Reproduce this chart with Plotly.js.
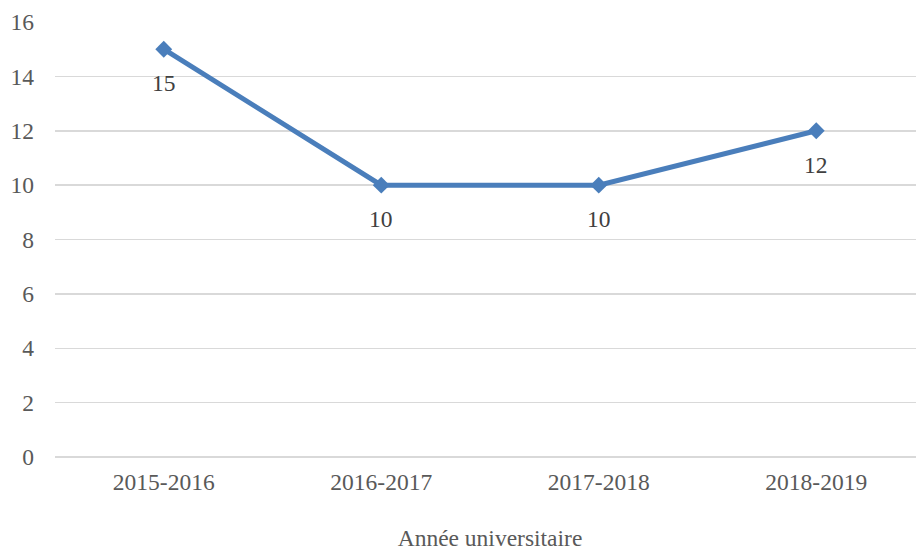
<!DOCTYPE html>
<html><head><meta charset="utf-8">
<script src="https://cdn.plot.ly/plotly-3.0.1.min.js"></script>
<style>html,body{margin:0;padding:0;overflow:hidden;background:#fff}#chart{width:925px;height:551px}</style>
</head><body><div id="chart"></div>
<script>
const categories = ["2015-2016", "2016-2017", "2017-2018", "2018-2019"];
const values = [15, 10, 10, 12];
const yTicks = [0, 2, 4, 6, 8, 10, 12, 14, 16];
const xTitle = "Année universitaire";

const font = "'Liberation Serif', 'Times New Roman', serif";
const fs = 23.5;
const trace = {
  x: [0, 1, 2, 3],
  y: values,
  type: 'scatter',
  mode: 'lines+markers',
  line: {color: '#4a7ebb', width: 5},
  marker: {symbol: 'diamond', size: 13, color: '#4a7ebb'},
  cliponaxis: false,
  hoverinfo: 'none'
};
const annotations = values.map((v, i) => ({
  x: i, y: v, xref: 'x', yref: 'y',
  text: String(v), showarrow: false,
  yshift: -34,
  font: {family: font, size: fs, color: '#404040'}
}));
const layout = {
  width: 925, height: 551,
  margin: {l: 55, r: 0, t: 22, b: 94},
  paper_bgcolor: '#fff', plot_bgcolor: '#fff',
  showlegend: false,
  font: {family: font, size: fs, color: '#595959'},
  annotations: annotations,
  xaxis: {
    range: [-0.5, 3.5],
    tickvals: [0, 1, 2, 3],
    ticktext: categories,
    showgrid: false, zeroline: false,
    showline: false, ticks: '',
    ticklabelstandoff: 8,
    tickfont: {family: font, size: fs, color: '#595959'},
    title: {text: xTitle, font: {family: font, size: fs, color: '#595959'}, standoff: 36}
  },
  yaxis: {
    range: [0, 16],
    tickvals: yTicks,
    showgrid: true, gridcolor: '#d9d9d9', gridwidth: 1.5,
    zeroline: true, zerolinecolor: '#d9d9d9', zerolinewidth: 1.5,
    showline: false, ticks: '',
    ticklabelstandoff: 20,
    tickfont: {family: font, size: fs, color: '#595959'}
  }
};
Plotly.newPlot('chart', [trace], layout, {displayModeBar: false, staticPlot: true});
</script></body></html>
